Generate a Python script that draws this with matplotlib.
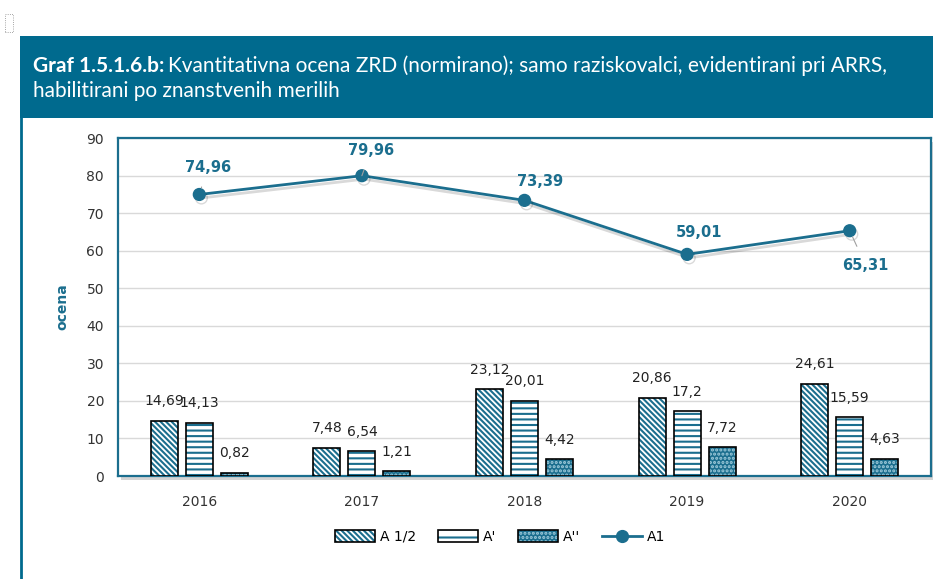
import matplotlib.pyplot as plt
import matplotlib.patheffects as pe
from matplotlib.patches import Rectangle
from matplotlib.lines import Line2D
from matplotlib.legend_handler import HandlerTuple
import numpy as np

plt.rcParams['font.family'] = 'DejaVu Sans'
plt.rcParams['hatch.linewidth'] = 1.5

years = ['2016', '2017', '2018', '2019', '2020']
a_half = [14.69, 7.48, 23.12, 20.86, 24.61]     # A 1/2
a_prime = [14.13, 6.54, 20.01, 17.2, 15.59]     # A'
a_dprime = [0.82, 1.21, 4.42, 7.72, 4.63]       # A''
a1 = [74.96, 79.96, 73.39, 59.01, 65.31]        # A1

teal = '#1B6E8E'
band = '#006A8E'
dotc = '#9fcbdb'
W, H = 933, 579
diag = '\\' * 6

def fmt(v):
    return f'{v:g}'.replace('.', ',')

fig = plt.figure(figsize=(W / 100, H / 100), dpi=100)

# title band + left rule
fig.patches.append(Rectangle((20 / W, 1 - 118 / H), 1, 82 / H, transform=fig.transFigure,
                             facecolor=band, edgecolor='none', zorder=0))
fig.add_artist(Line2D([21 / W, 21 / W], [0, 1 - 118 / H], transform=fig.transFigure,
                      color=band, lw=2))
fig.patches.append(Rectangle((5 / W, 1 - 32 / H), 8 / W, 18 / H, transform=fig.transFigure,
                             facecolor='white', edgecolor='#888888', lw=0.6, ls=':'))

t1 = fig.text(33 / W, 1 - 66 / H, 'Graf 1.5.1.6.b:', color='white', fontsize=15,
              fontweight='bold', family='Lato', va='center')
fig.canvas.draw()
bb = t1.get_window_extent()
fig.text((bb.x1 + 4) / W, 1 - 66 / H,
         'Kvantitativna ocena ZRD (normirano); samo raziskovalci, evidentirani pri ARRS,',
         color='white', fontsize=15, family='Lato', va='center')
fig.text(33 / W, 1 - 91 / H, 'habilitirani po znanstvenih merilih', color='white',
         fontsize=15, family='Lato', va='center')

# plot area with shadow
left, bottom, width, height = 118 / W, 1 - 476 / H, 813 / W, 338 / H
fig.patches.append(Rectangle((left + 3 / W, bottom - 4 / H), width, height,
                             transform=fig.transFigure, facecolor='#d4d4d4',
                             edgecolor='none', zorder=0.5))
ax = fig.add_axes([left, bottom, width, height])
ax.set_zorder(1)

x = np.arange(len(years))
w = 0.166
off = 0.215

def hatched_bars(xpos, vals, hatch, fc, hc):
    ax.bar(xpos, vals, w, color=fc, edgecolor=hc, hatch=hatch, lw=0, zorder=3)
    ax.bar(xpos, vals, w, facecolor='none', edgecolor='black', lw=1.2, zorder=4)
    for xi, v in zip(xpos, vals):
        ax.annotate(fmt(v), (xi, v), xytext=(0, 9), textcoords='offset points',
                    ha='center', va='bottom', fontsize=10, color='#222222', zorder=6)

hatched_bars(x - off, a_half, diag, 'white', teal)
hatched_bars(x, a_prime, '---', 'white', teal)
hatched_bars(x + off, a_dprime, '....', teal, dotc)

shadow = [pe.SimpleLineShadow(offset=(1.5, -2.5), alpha=0.15), pe.Normal()]
ax.plot(x, a1, color=teal, lw=2, marker='o', ms=8.5, zorder=5, path_effects=shadow)

label_offsets = [(6, 19.5), (6.5, 18), (11.5, 13.7), (8.6, 15.8), (11.5, -25)]
leaders = [True, True, False, False, True]
for xi, v, o, ld in zip(x, a1, label_offsets, leaders):
    ax.annotate(fmt(v), (xi, v), xytext=o, textcoords='offset points', ha='center',
                va='center', fontsize=10.5, fontweight='bold', color=teal, zorder=6,
                arrowprops=dict(arrowstyle='-', color='#a0a0a0', lw=0.8,
                                shrinkA=7, shrinkB=5) if ld else None)

ax.set_xlim(-0.5, 4.5)
ax.set_ylim(0, 90)
ax.set_yticks(range(0, 91, 10))
ax.set_xticks(x, years)
ax.tick_params(axis='y', length=0, pad=10, labelsize=10, labelcolor='#333333')
ax.tick_params(axis='x', length=0, pad=14, labelsize=10, labelcolor='#333333')
ax.yaxis.grid(True, color='#d9d9d9', lw=1)
ax.set_axisbelow(True)
for s in ax.spines.values():
    s.set_color(teal)
    s.set_linewidth(1.6)
ax.set_ylabel('ocena', color=teal, fontweight='bold', fontsize=10, labelpad=12)

# legend
h_half = (plt.Rectangle((0, 0), 1, 1, fc='white', ec=teal, hatch=diag, lw=0),
          plt.Rectangle((0, 0), 1, 1, fc='none', ec='black', lw=1.2))
h_prime = (plt.Rectangle((0, 0), 1, 1, fc='white', ec=teal, hatch='--', lw=0),
           plt.Rectangle((0, 0), 1, 1, fc='none', ec='black', lw=1.2))
h_dprime = (plt.Rectangle((0, 0), 1, 1, fc=teal, ec=dotc, hatch='....', lw=0),
            plt.Rectangle((0, 0), 1, 1, fc='none', ec='black', lw=1.2))
h_a1 = Line2D([], [], color=teal, lw=2, marker='o', ms=8.5)
fig.legend([h_half, h_prime, h_dprime, h_a1], ['A 1/2', "A'", "A''", 'A1'],
           handler_map={tuple: HandlerTuple(ndivide=1, pad=0)},
           loc='center', bbox_to_anchor=(500 / W, 1 - 537 / H), ncol=4, frameon=False,
           fontsize=10, handlelength=2.9, handleheight=0.9, handletextpad=0.3,
           columnspacing=1.6)

fig.savefig('out.png', dpi=100)
